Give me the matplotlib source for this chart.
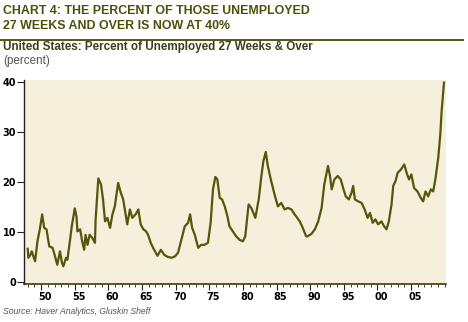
import matplotlib.pyplot as plt
import matplotlib.transforms as mtransforms
from matplotlib.ticker import MultipleLocator, FixedLocator

# values (decimal year, percent)
years = [1948.0, 1948.1, 1948.4, 1948.6, 1949.1, 1949.45, 1949.8, 1950.15, 1950.45, 1950.8,
         1951.2, 1951.7, 1952.0, 1952.4, 1952.8, 1953.1, 1953.3, 1953.7, 1953.9, 1954.3,
         1954.55, 1955.0, 1955.25, 1955.4, 1955.8, 1956.1, 1956.4, 1956.6, 1956.9, 1957.2,
         1957.6, 1958.0, 1958.1, 1958.5, 1958.9, 1959.2, 1959.5, 1959.85, 1960.25, 1960.6,
         1960.95, 1961.45, 1961.85, 1962.2, 1962.6, 1962.8, 1963.2, 1963.55, 1964.05, 1964.45,
         1964.8, 1965.2, 1965.6, 1965.9, 1966.3, 1966.8, 1967.3, 1967.8, 1968.3, 1968.8,
         1969.4, 1969.9, 1970.35, 1970.85, 1971.35, 1971.85, 1972.15, 1972.45, 1972.85, 1973.35,
         1973.8, 1974.3, 1974.8, 1975.2, 1975.55, 1975.9, 1976.2, 1976.55, 1976.9, 1977.3,
         1977.7, 1978.0, 1978.5, 1979.0, 1979.5, 1980.0, 1980.35, 1980.85, 1981.25, 1981.85,
         1982.35, 1982.75, 1983.05, 1983.4, 1983.7, 1984.2, 1984.7, 1985.2, 1985.7, 1986.2,
         1986.7, 1987.2, 1987.7, 1988.45, 1988.9, 1989.4, 1989.6, 1990.2, 1990.7, 1991.2,
         1991.7, 1992.1, 1992.4, 1992.65, 1992.95, 1993.2, 1993.6, 1994.1, 1994.55, 1994.9,
         1995.3, 1995.75, 1996.15, 1996.4, 1996.65, 1997.15, 1997.65, 1998.1, 1998.55, 1998.9,
         1999.3, 1999.7, 2000.1, 2000.6, 2001.0, 2001.35, 2001.7, 2002.1, 2002.35, 2002.7,
         2003.0, 2003.5, 2004.0, 2004.35, 2004.7, 2005.05, 2005.45, 2005.95, 2006.45, 2006.8,
         2007.15, 2007.55, 2007.95, 2008.3, 2008.65, 2009.05, 2009.35, 2009.55, 2009.9]
pct = [6.6, 4.8, 5.4, 6.1, 4.1, 8.1, 10.5, 13.5, 10.8, 10.5,
       7.1, 6.8, 5.4, 3.4, 6.1, 3.8, 3.1, 4.8, 4.4, 8.4,
       11.1, 14.7, 13.1, 10.1, 10.5, 8.1, 6.4, 9.4, 7.4, 9.4,
       8.8, 7.8, 12.5, 20.7, 19.5, 16.5, 12.1, 12.8, 10.8, 13.5,
       15.1, 19.8, 17.8, 16.5, 13.1, 11.5, 14.5, 12.8, 13.5, 14.5,
       11.5, 10.5, 10.1, 9.4, 7.8, 6.4, 5.2, 6.4, 5.4, 5.0,
       4.8, 5.1, 5.8, 8.4, 11.1, 11.8, 13.5, 10.8, 9.4, 6.8,
       7.4, 7.4, 7.8, 11.8, 18.5, 21.0, 20.5, 16.8, 16.5, 15.1,
       13.1, 11.1, 10.1, 9.1, 8.4, 8.1, 9.1, 15.5, 14.8, 12.8,
       16.5, 21.2, 24.2, 26.0, 23.2, 20.2, 17.5, 15.1, 15.8, 14.5,
       14.8, 14.5, 13.5, 12.1, 10.8, 9.1, 9.1, 9.6, 10.5, 12.1,
       14.8, 19.5, 21.5, 23.2, 21.2, 18.5, 20.5, 21.2, 20.5, 18.8,
       17.1, 16.5, 17.8, 19.2, 16.5, 16.1, 15.8, 14.5, 12.8, 13.8,
       11.8, 12.5, 11.5, 12.1, 11.1, 10.5, 12.1, 15.5, 19.2, 20.2,
       21.8, 22.5, 23.5, 21.8, 20.5, 21.5, 18.8, 18.1, 16.8, 16.1,
       18.1, 17.1, 18.5, 18.1, 20.8, 24.9, 29.5, 34.2, 39.9]

major_years = [1950, 1955, 1960, 1965, 1970, 1975, 1980, 1985, 1990, 1995, 2000, 2005]
major_labels = ['50', '55', '60', '65', '70', '75', '80', '85', '90', '95', '00', '05']

olive = '#55560c'
title_col = '#4e500a'

fig = plt.figure(figsize=(4.68, 3.22), dpi=100)
ax = fig.add_axes([0.052, 0.118, 0.901, 0.634])
ax.set_facecolor('#f5efdb')
ax.plot(years, pct, color=olive, linewidth=1.6)

ax.set_xlim(1947.5, 2010.2)
ax.set_ylim(-0.45, 40.45)
ax.set_yticks([0, 10, 20, 30, 40])
ax.xaxis.set_major_locator(FixedLocator(major_years))
ax.set_xticklabels(major_labels)
ax.xaxis.set_minor_locator(MultipleLocator(1))
ax.tick_params(axis='x', which='major', length=4, width=0.8, color='#222222', pad=2,
               labelsize=7)
ax.tick_params(axis='x', which='minor', length=2, width=0.6, color='#222222')
ax.tick_params(axis='y', length=5, width=0.8, color='#222222', pad=1, labelsize=7)
for lab in ax.get_xticklabels() + ax.get_yticklabels():
    lab.set_fontweight('bold')
    lab.set_family('DejaVu Sans')
# labels sit a little right of their ticks in the original
offset = mtransforms.ScaledTranslation(4 / 100, 0, fig.dpi_scale_trans)
for lab in ax.get_xticklabels():
    lab.set_transform(lab.get_transform() + offset)

for s in ['top', 'right']:
    ax.spines[s].set_visible(False)
ax.spines['left'].set_color('#222222')
ax.spines['bottom'].set_color('#3c3c10')
ax.spines['left'].set_linewidth(1.0)
ax.spines['bottom'].set_linewidth(1.2)

tfam = ['Liberation Sans', 'DejaVu Sans']
fig.text(0.006, 1 - 11 / 322, 'CHART 4: THE PERCENT OF THOSE UNEMPLOYED', family=tfam,
         fontweight='bold', fontsize=8.9, color=title_col, va='center')
fig.text(0.006, 1 - 26 / 322, '27 WEEKS AND OVER IS NOW AT 40%', family=tfam,
         fontweight='bold', fontsize=8.9, color=title_col, va='center')
fig.add_artist(plt.Line2D([0, 463 / 468], [1 - 39.5 / 322] * 2, color=olive, linewidth=1.4))
fig.text(0.006, 1 - 47 / 322, 'United States: Percent of Unemployed 27 Weeks & Over',
         family=tfam, fontweight='bold', fontsize=8.4, color='#3d3d20', va='center')
fig.text(0.006, 1 - 61 / 322, '(percent)', family=tfam,
         fontsize=8.4, color='#555555', va='center')
fig.text(0.006, 1 - 312 / 322, 'Source: Haver Analytics, Gluskin Sheff',
         family=tfam, style='italic', fontsize=6.2, color='#555555', va='center')

fig.savefig('out.png', dpi=100)
